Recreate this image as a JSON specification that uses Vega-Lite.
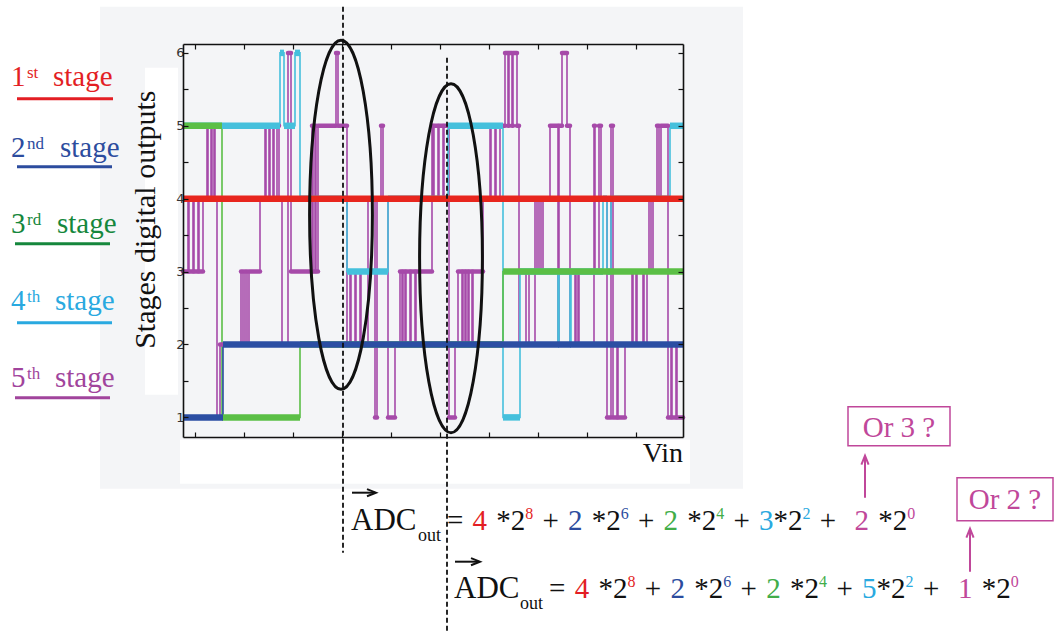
{
"$schema": "https://vega.github.io/schema/vega-lite/v6.json",
"width": 500, "height": 393,
"autosize": "none",
"padding": {"left": 183, "top": 44, "right": 372, "bottom": 194},
"background": "white",
"config": {"view": {"stroke": null}, "font": "Liberation Serif"},
"datasets": {
"panels": [
{"x1": -83, "x2": 560, "y1": 6.634, "y2": 0.022, "tone": "bg"},
{"x1": -3, "x2": 507, "y1": 0.694, "y2": 0.0905, "tone": "w"},
{"x1": -38, "x2": -5, "y1": 5.797, "y2": 1.311, "tone": "w"}
],
"steps": [
{"tone":"s5","vin":0,"lvl":3},{"tone":"s5","vin":5,"lvl":4},{"tone":"s5","vin":6,"lvl":3},{"tone":"s5","vin":10,"lvl":4},{"tone":"s5","vin":11,"lvl":3},{"tone":"s5","vin":15,"lvl":4},{"tone":"s5","vin":16,"lvl":3},{"tone":"s5","vin":20,"lvl":4},{"tone":"s5","vin":24,"lvl":5},{"tone":"s5","vin":25,"lvl":4},{"tone":"s5","vin":28,"lvl":5},{"tone":"s5","vin":29,"lvl":4},{"tone":"s5","vin":31,"lvl":5},{"tone":"s5","vin":32,"lvl":4},{"tone":"s5","vin":34,"lvl":1},{"tone":"s5","vin":37,"lvl":2},{"tone":"s5","vin":58,"lvl":3},{"tone":"s5","vin":60,"lvl":2},{"tone":"s5","vin":62,"lvl":3},{"tone":"s5","vin":64,"lvl":2},{"tone":"s5","vin":66,"lvl":3},{"tone":"s5","vin":77,"lvl":4},{"tone":"s5","vin":82,"lvl":5},{"tone":"s5","vin":83,"lvl":4},{"tone":"s5","vin":86,"lvl":5},{"tone":"s5","vin":87,"lvl":4},{"tone":"s5","vin":90,"lvl":5},{"tone":"s5","vin":91,"lvl":4},{"tone":"s5","vin":94,"lvl":5},{"tone":"s5","vin":96,"lvl":4},{"tone":"s5","vin":99,"lvl":2},{"tone":"s5","vin":105,"lvl":6},{"tone":"s5","vin":108,"lvl":3},{"tone":"s5","vin":129,"lvl":5},{"tone":"s5","vin":130,"lvl":3},{"tone":"s5","vin":132,"lvl":5},{"tone":"s5","vin":133,"lvl":3},{"tone":"s5","vin":135,"lvl":5},{"tone":"s5","vin":153,"lvl":6},{"tone":"s5","vin":155,"lvl":5},{"tone":"s5","vin":164,"lvl":2},{"tone":"s5","vin":167,"lvl":3},{"tone":"s5","vin":168,"lvl":2},{"tone":"s5","vin":172,"lvl":3},{"tone":"s5","vin":173,"lvl":2},{"tone":"s5","vin":177,"lvl":3},{"tone":"s5","vin":178,"lvl":2},{"tone":"s5","vin":185,"lvl":4},{"tone":"s5","vin":192,"lvl":1},{"tone":"s5","vin":194,"lvl":4},{"tone":"s5","vin":198,"lvl":5},{"tone":"s5","vin":200,"lvl":4},{"tone":"s5","vin":205,"lvl":1},{"tone":"s5","vin":212,"lvl":2},{"tone":"s5","vin":217,"lvl":3},{"tone":"s5","vin":219,"lvl":2},{"tone":"s5","vin":220,"lvl":3},{"tone":"s5","vin":222,"lvl":2},{"tone":"s5","vin":223,"lvl":3},{"tone":"s5","vin":227,"lvl":2},{"tone":"s5","vin":228,"lvl":3},{"tone":"s5","vin":232,"lvl":2},{"tone":"s5","vin":233,"lvl":3},{"tone":"s5","vin":249,"lvl":5},{"tone":"s5","vin":250,"lvl":4},{"tone":"s5","vin":251,"lvl":5},{"tone":"s5","vin":255,"lvl":4},{"tone":"s5","vin":256,"lvl":5},{"tone":"s5","vin":260,"lvl":4},{"tone":"s5","vin":261,"lvl":5},{"tone":"s5","vin":266,"lvl":1},{"tone":"s5","vin":272,"lvl":2},{"tone":"s5","vin":275,"lvl":3},{"tone":"s5","vin":279,"lvl":2},{"tone":"s5","vin":280,"lvl":3},{"tone":"s5","vin":282,"lvl":2},{"tone":"s5","vin":283,"lvl":3},{"tone":"s5","vin":285,"lvl":2},{"tone":"s5","vin":286,"lvl":3},{"tone":"s5","vin":289,"lvl":2},{"tone":"s5","vin":290,"lvl":3},{"tone":"s5","vin":300,"lvl":4},{"tone":"s5","vin":307,"lvl":5},{"tone":"s5","vin":308,"lvl":4},{"tone":"s5","vin":312,"lvl":5},{"tone":"s5","vin":313,"lvl":4},{"tone":"s5","vin":317,"lvl":5},{"tone":"s5","vin":322,"lvl":6},{"tone":"s5","vin":325,"lvl":5},{"tone":"s5","vin":326,"lvl":6},{"tone":"s5","vin":329,"lvl":5},{"tone":"s5","vin":330,"lvl":6},{"tone":"s5","vin":334,"lvl":5},{"tone":"s5","vin":336,"lvl":2},{"tone":"s5","vin":343,"lvl":3},{"tone":"s5","vin":346,"lvl":2},{"tone":"s5","vin":352,"lvl":4},{"tone":"s5","vin":354,"lvl":3},{"tone":"s5","vin":356,"lvl":4},{"tone":"s5","vin":358,"lvl":3},{"tone":"s5","vin":360,"lvl":4},{"tone":"s5","vin":367,"lvl":5},{"tone":"s5","vin":375,"lvl":2},{"tone":"s5","vin":376,"lvl":5},{"tone":"s5","vin":379,"lvl":6},{"tone":"s5","vin":384,"lvl":5},{"tone":"s5","vin":387,"lvl":2},{"tone":"s5","vin":392,"lvl":3},{"tone":"s5","vin":393,"lvl":2},{"tone":"s5","vin":395,"lvl":3},{"tone":"s5","vin":396,"lvl":2},{"tone":"s5","vin":411,"lvl":5},{"tone":"s5","vin":412,"lvl":3},{"tone":"s5","vin":416,"lvl":5},{"tone":"s5","vin":418,"lvl":4},{"tone":"s5","vin":424,"lvl":1},{"tone":"s5","vin":428,"lvl":5},{"tone":"s5","vin":430,"lvl":1},{"tone":"s5","vin":434,"lvl":2},{"tone":"s5","vin":435,"lvl":1},{"tone":"s5","vin":442,"lvl":2},{"tone":"s5","vin":449,"lvl":3},{"tone":"s5","vin":450,"lvl":2},{"tone":"s5","vin":453,"lvl":3},{"tone":"s5","vin":454,"lvl":2},{"tone":"s5","vin":460,"lvl":3},{"tone":"s5","vin":461,"lvl":2},{"tone":"s5","vin":464,"lvl":3},{"tone":"s5","vin":466,"lvl":4},{"tone":"s5","vin":468,"lvl":3},{"tone":"s5","vin":470,"lvl":4},{"tone":"s5","vin":474,"lvl":5},{"tone":"s5","vin":476,"lvl":4},{"tone":"s5","vin":478,"lvl":5},{"tone":"s5","vin":485,"lvl":1},{"tone":"s5","vin":488,"lvl":2},{"tone":"s5","vin":489,"lvl":1},{"tone":"s5","vin":493,"lvl":2},{"tone":"s5","vin":494,"lvl":1},{"tone":"s5","vin":500,"lvl":1},
{"tone":"s4","vin":0,"lvl":5},{"tone":"s4","vin":97,"lvl":6},{"tone":"s4","vin":101,"lvl":5},{"tone":"s4","vin":112,"lvl":6},{"tone":"s4","vin":117,"lvl":4},{"tone":"s4","vin":164,"lvl":3},{"tone":"s4","vin":205,"lvl":4},{"tone":"s4","vin":265,"lvl":5},{"tone":"s4","vin":320,"lvl":1},{"tone":"s4","vin":337,"lvl":3},{"tone":"s4","vin":375,"lvl":2},{"tone":"s4","vin":376,"lvl":3},{"tone":"s4","vin":387,"lvl":2},{"tone":"s4","vin":388,"lvl":3},{"tone":"s4","vin":420,"lvl":4},{"tone":"s4","vin":424,"lvl":3},{"tone":"s4","vin":428,"lvl":4},{"tone":"s4","vin":487,"lvl":5},{"tone":"s4","vin":500,"lvl":5},
{"tone":"s3","vin":0,"lvl":5},{"tone":"s3","vin":39,"lvl":1},{"tone":"s3","vin":117,"lvl":2},{"tone":"s3","vin":320,"lvl":3},{"tone":"s3","vin":500,"lvl":3},
{"tone":"s2","vin":0,"lvl":1},{"tone":"s2","vin":40,"lvl":2},{"tone":"s2","vin":500,"lvl":2},
{"tone":"s1","vin":0,"lvl":4},{"tone":"s1","vin":500,"lvl":4}
],
"ovals": [{"vin": 158, "lvl": 3.78}, {"vin": 268, "lvl": 3.184}],
"dashes": [{"vin": 160, "y1": 6.634, "y2": -0.856}, {"vin": 264, "y1": 5.934, "y2": -1.93}],
"ulines": [
{"x1": -166, "x2": -70, "y": 5.372, "tone": "L1"},
{"x1": -166, "x2": -71, "y": 4.439, "tone": "L2"},
{"x1": -168, "x2": -73, "y": 3.383, "tone": "L3"},
{"x1": -166, "x2": -71, "y": 2.299, "tone": "L4"},
{"x1": -168, "x2": -73, "y": 1.27, "tone": "L5"}
],
"notes": [
{"kind":"leg","text":"1","vin":-172,"lvl":5.55,"tone":"L1"},
{"kind":"legsup","text":"st","vin":-156,"lvl":5.66,"tone":"L1"},
{"kind":"leg","text":"stage","vin":-130,"lvl":5.55,"tone":"L1"},
{"kind":"leg","text":"2","vin":-172,"lvl":4.576,"tone":"L2"},
{"kind":"legsup","text":"nd","vin":-156,"lvl":4.686,"tone":"L2"},
{"kind":"leg","text":"stage","vin":-123,"lvl":4.576,"tone":"L2"},
{"kind":"leg","text":"3","vin":-172,"lvl":3.534,"tone":"L3"},
{"kind":"legsup","text":"rd","vin":-156,"lvl":3.644,"tone":"L3"},
{"kind":"leg","text":"stage","vin":-126,"lvl":3.534,"tone":"L3"},
{"kind":"leg","text":"4","vin":-172,"lvl":2.477,"tone":"L4"},
{"kind":"legsup","text":"th","vin":-156,"lvl":2.587,"tone":"L4"},
{"kind":"leg","text":"stage","vin":-128,"lvl":2.477,"tone":"L4"},
{"kind":"leg","text":"5","vin":-172,"lvl":1.421,"tone":"L5"},
{"kind":"legsup","text":"th","vin":-156,"lvl":1.531,"tone":"L5"},
{"kind":"leg","text":"stage","vin":-128,"lvl":1.421,"tone":"L5"},
{"kind":"ytitle","text":"Stages digital outputs","vin":-28,"lvl":3.712,"tone":"k"},
{"kind":"vin","text":"Vin","vin":500,"lvl":0.392,"tone":"k"},
{"kind":"fa","text":"ADC","vin":168,"lvl":-0.5405,"tone":"k"},
{"kind":"fsub","text":"out","vin":235,"lvl":-0.6914,"tone":"k"},
{"kind":"fm","text":"=","vin":264,"lvl":-0.5405,"tone":"k"},
{"kind":"fm","text":"4","vin":289.6,"lvl":-0.5405,"tone":"L1"},
{"kind":"fm","text":"*2","vin":313.3,"lvl":-0.5405,"tone":"k"},
{"kind":"fsup","text":"8","vin":342.3,"lvl":-0.3896,"tone":"L1"},
{"kind":"fm","text":"+","vin":359.5,"lvl":-0.5405,"tone":"k"},
{"kind":"fm","text":"2","vin":385.1,"lvl":-0.5405,"tone":"L2"},
{"kind":"fm","text":"*2","vin":408.8,"lvl":-0.5405,"tone":"k"},
{"kind":"fsup","text":"6","vin":437.8,"lvl":-0.3896,"tone":"L2"},
{"kind":"fm","text":"+","vin":455,"lvl":-0.5405,"tone":"k"},
{"kind":"fm","text":"2","vin":480.6,"lvl":-0.5405,"tone":"F3"},
{"kind":"fm","text":"*2","vin":504.3,"lvl":-0.5405,"tone":"k"},
{"kind":"fsup","text":"4","vin":533.3,"lvl":-0.3896,"tone":"F3"},
{"kind":"fm","text":"+","vin":550.5,"lvl":-0.5405,"tone":"k"},
{"kind":"fm","text":"3","vin":576.1,"lvl":-0.5405,"tone":"L4"},
{"kind":"fm","text":"*2","vin":590.6,"lvl":-0.5405,"tone":"k"},
{"kind":"fsup","text":"2","vin":619.6,"lvl":-0.3896,"tone":"L4"},
{"kind":"fm","text":"+","vin":636.8,"lvl":-0.5405,"tone":"k"},
{"kind":"fm","text":"2","vin":671.6,"lvl":-0.5405,"tone":"F5"},
{"kind":"fm","text":"*2","vin":695.3,"lvl":-0.5405,"tone":"k"},
{"kind":"fsup","text":"0","vin":724.3,"lvl":-0.3896,"tone":"F5"},
{"kind":"fa","text":"ADC","vin":271,"lvl":-1.4733,"tone":"k"},
{"kind":"fsub","text":"out","vin":337,"lvl":-1.6241,"tone":"k"},
{"kind":"fm","text":"=","vin":366,"lvl":-1.4733,"tone":"k"},
{"kind":"fm","text":"4","vin":391.7,"lvl":-1.4733,"tone":"L1"},
{"kind":"fm","text":"*2","vin":415.5,"lvl":-1.4733,"tone":"k"},
{"kind":"fsup","text":"8","vin":444.5,"lvl":-1.3224,"tone":"L1"},
{"kind":"fm","text":"+","vin":461.8,"lvl":-1.4733,"tone":"k"},
{"kind":"fm","text":"2","vin":487.5,"lvl":-1.4733,"tone":"L2"},
{"kind":"fm","text":"*2","vin":511.3,"lvl":-1.4733,"tone":"k"},
{"kind":"fsup","text":"6","vin":540.3,"lvl":-1.3224,"tone":"L2"},
{"kind":"fm","text":"+","vin":557.6,"lvl":-1.4733,"tone":"k"},
{"kind":"fm","text":"2","vin":583.3,"lvl":-1.4733,"tone":"F3"},
{"kind":"fm","text":"*2","vin":607.1,"lvl":-1.4733,"tone":"k"},
{"kind":"fsup","text":"4","vin":636.1,"lvl":-1.3224,"tone":"F3"},
{"kind":"fm","text":"+","vin":653.4,"lvl":-1.4733,"tone":"k"},
{"kind":"fm","text":"5","vin":679.1,"lvl":-1.4733,"tone":"L4"},
{"kind":"fm","text":"*2","vin":693.6,"lvl":-1.4733,"tone":"k"},
{"kind":"fsup","text":"2","vin":722.6,"lvl":-1.3224,"tone":"L4"},
{"kind":"fm","text":"+","vin":739.9,"lvl":-1.4733,"tone":"k"},
{"kind":"fm","text":"1","vin":774.9,"lvl":-1.4733,"tone":"F5"},
{"kind":"fm","text":"*2","vin":798.7,"lvl":-1.4733,"tone":"k"},
{"kind":"fsup","text":"0","vin":827.7,"lvl":-1.3224,"tone":"F5"},
{"kind":"or","text":"Or 3 ?","vin":716,"lvl":0.859,"tone":"F5"},
{"kind":"or","text":"Or 2 ?","vin":822,"lvl":-0.129,"tone":"F5"}
],
"boxes": [
{"x1": 665, "x2": 767, "y1": 1.147, "y2": 0.612},
{"x1": 774, "x2": 870, "y1": 0.173, "y2": -0.417}
],
"arrows": [
{"x1": 682, "x2": 682, "y1": -0.1015, "y2": 0.455, "tone": "F5"},
{"x1": 787, "x2": 787, "y1": -1.1166, "y2": -0.535, "tone": "F5"},
{"x1": 169, "x2": 192, "y1": -0.0329, "y2": -0.0329, "tone": "k"},
{"x1": 272, "x2": 296, "y1": -0.9794, "y2": -0.9794, "tone": "k"}
],
"heads": [
{"vin": 682, "lvl": 0.4129, "dir": "up", "tone": "F5"},
{"vin": 787, "lvl": -0.5885, "dir": "up", "tone": "F5"},
{"vin": 188.5, "lvl": -0.0329, "dir": "right", "tone": "k"},
{"vin": 292.5, "lvl": -0.9794, "dir": "right", "tone": "k"}
]
},
"layer": [
{
"data": {"name": "panels"},
"mark": {"type": "rect"},
"encoding": {
"x": {"field": "x1", "type": "quantitative", "scale": {"domain": [0, 500], "nice": false, "zero": false},
"axis": {"orient": "bottom", "values": [12, 61, 110, 159, 208, 257, 306, 355, 404, 453], "labels": false, "tickSize": -5, "tickColor": "#111", "tickWidth": 1.2, "domainColor": "#111", "domainWidth": 1.6, "grid": false, "title": null, "zindex": 1}},
"x2": {"field": "x2"},
"y": {"field": "y1", "type": "quantitative", "scale": {"domain": [0.731, 6.122], "nice": false, "zero": false},
"axis": {"orient": "left", "values": [1, 1.5, 2, 2.5, 3, 3.5, 4, 4.5, 5, 5.5, 6], "labelExpr": "datum.value % 1 === 0 ? format(datum.value, 'd') : ''", "tickSize": -5, "labelPadding": 4, "labelFont": "DejaVu Sans", "labelFontSize": 13, "labelColor": "#333", "tickColor": "#111", "tickWidth": 1.2, "domainColor": "#111", "domainWidth": 1.6, "grid": false, "title": null, "zindex": 1}},
"y2": {"field": "y2"},
"color": {"field": "tone", "type": "nominal", "legend": null, "scale": {"domain": ["bg","w","s1","s2","s3","s4","s5","L1","L2","L3","L4","L5","F3","F5","k"], "range": ["#f4f5f7","#ffffff","#e8261e","#2b4ea3","#5bbf46","#45c0dc","#a64aa9","#e31e24","#2c4c9e","#15873c","#29a9e0","#a1449c","#41ad49","#c0479a","#111111"]}}
}
},
{
"data": {"name": "steps"},
"mark": {"type": "line", "interpolate": "step-after", "strokeWidth": 1.6},
"encoding": {
"x": {"field": "vin", "type": "quantitative", "scale": {"domain": [0, 500], "nice": false, "zero": false},
"axis": {"orient": "top", "values": [12, 61, 110, 159, 208, 257, 306, 355, 404, 453], "labels": false, "tickSize": -5, "tickColor": "#111", "tickWidth": 1.2, "domainColor": "#111", "domainWidth": 1.6, "grid": false, "title": null, "zindex": 1}},
"y": {"field": "lvl", "type": "quantitative", "scale": {"domain": [0.731, 6.122], "nice": false, "zero": false},
"axis": {"orient": "right", "values": [1, 1.5, 2, 2.5, 3, 3.5, 4, 4.5, 5, 5.5, 6], "labels": false, "tickSize": -5, "tickColor": "#111", "tickWidth": 1.2, "domainColor": "#111", "domainWidth": 1.6, "grid": false, "title": null, "zindex": 1}},
"color": {"field": "tone", "type": "nominal", "legend": null, "scale": {"domain": ["bg","w","s1","s2","s3","s4","s5","L1","L2","L3","L4","L5","F3","F5","k"], "range": ["#f4f5f7","#ffffff","#e8261e","#2b4ea3","#5bbf46","#45c0dc","#a64aa9","#e31e24","#2c4c9e","#15873c","#29a9e0","#a1449c","#41ad49","#c0479a","#111111"]}}
}
},
{
"data": {"name": "steps"},
"transform": [
{"filter": "datum.tone === 's5'"},
{"window": [{"op": "lead", "field": "vin", "as": "vin2"}], "sort": [{"field": "vin"}]},
{"filter": "datum.vin2 != null"}
],
"mark": {"type": "rule", "strokeWidth": 4.5, "strokeCap": "round"},
"encoding": {
"x": {"field": "vin", "type": "quantitative", "scale": {"domain": [0, 500], "nice": false, "zero": false}, "axis": null},
"x2": {"field": "vin2"},
"y": {"field": "lvl", "type": "quantitative", "scale": {"domain": [0.731, 6.122], "nice": false, "zero": false}, "axis": null},
"color": {"field": "tone", "type": "nominal", "legend": null, "scale": {"domain": ["bg","w","s1","s2","s3","s4","s5","L1","L2","L3","L4","L5","F3","F5","k"], "range": ["#f4f5f7","#ffffff","#e8261e","#2b4ea3","#5bbf46","#45c0dc","#a64aa9","#e31e24","#2c4c9e","#15873c","#29a9e0","#a1449c","#41ad49","#c0479a","#111111"]}}
}
},
{
"data": {"name": "steps"},
"transform": [
{"filter": "datum.tone !== 's5'"},
{"window": [{"op": "lead", "field": "vin", "as": "vin2"}], "groupby": ["tone"], "sort": [{"field": "vin"}]},
{"filter": "datum.vin2 != null"}
],
"mark": {"type": "rule", "strokeWidth": 6.5, "strokeCap": "butt"},
"encoding": {
"x": {"field": "vin", "type": "quantitative", "scale": {"domain": [0, 500], "nice": false, "zero": false}, "axis": null},
"x2": {"field": "vin2"},
"y": {"field": "lvl", "type": "quantitative", "scale": {"domain": [0.731, 6.122], "nice": false, "zero": false}, "axis": null},
"order": {"field": "tone", "type": "ordinal", "sort": "descending"},
"color": {"field": "tone", "type": "nominal", "legend": null, "scale": {"domain": ["bg","w","s1","s2","s3","s4","s5","L1","L2","L3","L4","L5","F3","F5","k"], "range": ["#f4f5f7","#ffffff","#e8261e","#2b4ea3","#5bbf46","#45c0dc","#a64aa9","#e31e24","#2c4c9e","#15873c","#29a9e0","#a1449c","#41ad49","#c0479a","#111111"]}}
}
},
{
"data": {"name": "ovals"},
"mark": {"type": "point", "shape": "M0,-1A0.18,1,0,1,1,0,1A0.18,1,0,1,1,0,-1Z", "size": 121801, "filled": false, "stroke": "#111111", "strokeWidth": 3, "opacity": 1},
"encoding": {
"x": {"field": "vin", "type": "quantitative", "scale": {"domain": [0, 500], "nice": false, "zero": false}, "axis": null},
"y": {"field": "lvl", "type": "quantitative", "scale": {"domain": [0.731, 6.122], "nice": false, "zero": false}, "axis": null}
}
},
{
"data": {"name": "dashes"},
"mark": {"type": "rule", "stroke": "#111111", "strokeWidth": 1.8, "strokeDash": [5, 3]},
"encoding": {
"x": {"field": "vin", "type": "quantitative", "scale": {"domain": [0, 500], "nice": false, "zero": false}, "axis": null},
"y": {"field": "y1", "type": "quantitative", "scale": {"domain": [0.731, 6.122], "nice": false, "zero": false}, "axis": null},
"y2": {"field": "y2"}
}
},
{
"data": {"name": "ulines"},
"mark": {"type": "rule", "strokeWidth": 3},
"encoding": {
"x": {"field": "x1", "type": "quantitative", "scale": {"domain": [0, 500], "nice": false, "zero": false}, "axis": null},
"x2": {"field": "x2"},
"y": {"field": "y", "type": "quantitative", "scale": {"domain": [0.731, 6.122], "nice": false, "zero": false}, "axis": null},
"color": {"field": "tone", "type": "nominal", "legend": null, "scale": {"domain": ["bg","w","s1","s2","s3","s4","s5","L1","L2","L3","L4","L5","F3","F5","k"], "range": ["#f4f5f7","#ffffff","#e8261e","#2b4ea3","#5bbf46","#45c0dc","#a64aa9","#e31e24","#2c4c9e","#15873c","#29a9e0","#a1449c","#41ad49","#c0479a","#111111"]}}
}
},
{
"data": {"name": "notes"},
"transform": [{"filter": "datum.kind === 'leg'"}],
"mark": {"type": "text", "font": "Liberation Serif", "fontSize": 29, "align": "left", "baseline": "alphabetic"},
"encoding": {
"x": {"field": "vin", "type": "quantitative", "scale": {"domain": [0, 500], "nice": false, "zero": false}, "axis": null},
"y": {"field": "lvl", "type": "quantitative", "scale": {"domain": [0.731, 6.122], "nice": false, "zero": false}, "axis": null},
"text": {"field": "text"},
"color": {"field": "tone", "type": "nominal", "legend": null, "scale": {"domain": ["bg","w","s1","s2","s3","s4","s5","L1","L2","L3","L4","L5","F3","F5","k"], "range": ["#f4f5f7","#ffffff","#e8261e","#2b4ea3","#5bbf46","#45c0dc","#a64aa9","#e31e24","#2c4c9e","#15873c","#29a9e0","#a1449c","#41ad49","#c0479a","#111111"]}}
}
},
{
"data": {"name": "notes"},
"transform": [{"filter": "datum.kind === 'legsup'"}],
"mark": {"type": "text", "font": "Liberation Serif", "fontSize": 17, "align": "left", "baseline": "alphabetic"},
"encoding": {
"x": {"field": "vin", "type": "quantitative", "scale": {"domain": [0, 500], "nice": false, "zero": false}, "axis": null},
"y": {"field": "lvl", "type": "quantitative", "scale": {"domain": [0.731, 6.122], "nice": false, "zero": false}, "axis": null},
"text": {"field": "text"},
"color": {"field": "tone", "type": "nominal", "legend": null, "scale": {"domain": ["bg","w","s1","s2","s3","s4","s5","L1","L2","L3","L4","L5","F3","F5","k"], "range": ["#f4f5f7","#ffffff","#e8261e","#2b4ea3","#5bbf46","#45c0dc","#a64aa9","#e31e24","#2c4c9e","#15873c","#29a9e0","#a1449c","#41ad49","#c0479a","#111111"]}}
}
},
{
"data": {"name": "notes"},
"transform": [{"filter": "datum.kind === 'ytitle'"}],
"mark": {"type": "text", "font": "Liberation Serif", "fontSize": 30, "align": "center", "baseline": "alphabetic", "angle": 270},
"encoding": {
"x": {"field": "vin", "type": "quantitative", "scale": {"domain": [0, 500], "nice": false, "zero": false}, "axis": null},
"y": {"field": "lvl", "type": "quantitative", "scale": {"domain": [0.731, 6.122], "nice": false, "zero": false}, "axis": null},
"text": {"field": "text"},
"color": {"field": "tone", "type": "nominal", "legend": null, "scale": {"domain": ["bg","w","s1","s2","s3","s4","s5","L1","L2","L3","L4","L5","F3","F5","k"], "range": ["#f4f5f7","#ffffff","#e8261e","#2b4ea3","#5bbf46","#45c0dc","#a64aa9","#e31e24","#2c4c9e","#15873c","#29a9e0","#a1449c","#41ad49","#c0479a","#111111"]}}
}
},
{
"data": {"name": "notes"},
"transform": [{"filter": "datum.kind === 'vin'"}],
"mark": {"type": "text", "font": "Liberation Serif", "fontSize": 28, "align": "right", "baseline": "alphabetic"},
"encoding": {
"x": {"field": "vin", "type": "quantitative", "scale": {"domain": [0, 500], "nice": false, "zero": false}, "axis": null},
"y": {"field": "lvl", "type": "quantitative", "scale": {"domain": [0.731, 6.122], "nice": false, "zero": false}, "axis": null},
"text": {"field": "text"},
"color": {"field": "tone", "type": "nominal", "legend": null, "scale": {"domain": ["bg","w","s1","s2","s3","s4","s5","L1","L2","L3","L4","L5","F3","F5","k"], "range": ["#f4f5f7","#ffffff","#e8261e","#2b4ea3","#5bbf46","#45c0dc","#a64aa9","#e31e24","#2c4c9e","#15873c","#29a9e0","#a1449c","#41ad49","#c0479a","#111111"]}}
}
},
{
"data": {"name": "notes"},
"transform": [{"filter": "datum.kind === 'fa'"}],
"mark": {"type": "text", "font": "Liberation Serif", "fontSize": 31, "align": "left", "baseline": "alphabetic"},
"encoding": {
"x": {"field": "vin", "type": "quantitative", "scale": {"domain": [0, 500], "nice": false, "zero": false}, "axis": null},
"y": {"field": "lvl", "type": "quantitative", "scale": {"domain": [0.731, 6.122], "nice": false, "zero": false}, "axis": null},
"text": {"field": "text"},
"color": {"field": "tone", "type": "nominal", "legend": null, "scale": {"domain": ["bg","w","s1","s2","s3","s4","s5","L1","L2","L3","L4","L5","F3","F5","k"], "range": ["#f4f5f7","#ffffff","#e8261e","#2b4ea3","#5bbf46","#45c0dc","#a64aa9","#e31e24","#2c4c9e","#15873c","#29a9e0","#a1449c","#41ad49","#c0479a","#111111"]}}
}
},
{
"data": {"name": "notes"},
"transform": [{"filter": "datum.kind === 'fm'"}],
"mark": {"type": "text", "font": "Liberation Serif", "fontSize": 29, "align": "left", "baseline": "alphabetic"},
"encoding": {
"x": {"field": "vin", "type": "quantitative", "scale": {"domain": [0, 500], "nice": false, "zero": false}, "axis": null},
"y": {"field": "lvl", "type": "quantitative", "scale": {"domain": [0.731, 6.122], "nice": false, "zero": false}, "axis": null},
"text": {"field": "text"},
"color": {"field": "tone", "type": "nominal", "legend": null, "scale": {"domain": ["bg","w","s1","s2","s3","s4","s5","L1","L2","L3","L4","L5","F3","F5","k"], "range": ["#f4f5f7","#ffffff","#e8261e","#2b4ea3","#5bbf46","#45c0dc","#a64aa9","#e31e24","#2c4c9e","#15873c","#29a9e0","#a1449c","#41ad49","#c0479a","#111111"]}}
}
},
{
"data": {"name": "notes"},
"transform": [{"filter": "datum.kind === 'fsup'"}],
"mark": {"type": "text", "font": "Liberation Serif", "fontSize": 16, "align": "left", "baseline": "alphabetic"},
"encoding": {
"x": {"field": "vin", "type": "quantitative", "scale": {"domain": [0, 500], "nice": false, "zero": false}, "axis": null},
"y": {"field": "lvl", "type": "quantitative", "scale": {"domain": [0.731, 6.122], "nice": false, "zero": false}, "axis": null},
"text": {"field": "text"},
"color": {"field": "tone", "type": "nominal", "legend": null, "scale": {"domain": ["bg","w","s1","s2","s3","s4","s5","L1","L2","L3","L4","L5","F3","F5","k"], "range": ["#f4f5f7","#ffffff","#e8261e","#2b4ea3","#5bbf46","#45c0dc","#a64aa9","#e31e24","#2c4c9e","#15873c","#29a9e0","#a1449c","#41ad49","#c0479a","#111111"]}}
}
},
{
"data": {"name": "notes"},
"transform": [{"filter": "datum.kind === 'fsub'"}],
"mark": {"type": "text", "font": "Liberation Serif", "fontSize": 18, "align": "left", "baseline": "alphabetic"},
"encoding": {
"x": {"field": "vin", "type": "quantitative", "scale": {"domain": [0, 500], "nice": false, "zero": false}, "axis": null},
"y": {"field": "lvl", "type": "quantitative", "scale": {"domain": [0.731, 6.122], "nice": false, "zero": false}, "axis": null},
"text": {"field": "text"},
"color": {"field": "tone", "type": "nominal", "legend": null, "scale": {"domain": ["bg","w","s1","s2","s3","s4","s5","L1","L2","L3","L4","L5","F3","F5","k"], "range": ["#f4f5f7","#ffffff","#e8261e","#2b4ea3","#5bbf46","#45c0dc","#a64aa9","#e31e24","#2c4c9e","#15873c","#29a9e0","#a1449c","#41ad49","#c0479a","#111111"]}}
}
},
{
"data": {"name": "notes"},
"transform": [{"filter": "datum.kind === 'or'"}],
"mark": {"type": "text", "font": "Liberation Serif", "fontSize": 29, "align": "center", "baseline": "middle"},
"encoding": {
"x": {"field": "vin", "type": "quantitative", "scale": {"domain": [0, 500], "nice": false, "zero": false}, "axis": null},
"y": {"field": "lvl", "type": "quantitative", "scale": {"domain": [0.731, 6.122], "nice": false, "zero": false}, "axis": null},
"text": {"field": "text"},
"color": {"field": "tone", "type": "nominal", "legend": null, "scale": {"domain": ["bg","w","s1","s2","s3","s4","s5","L1","L2","L3","L4","L5","F3","F5","k"], "range": ["#f4f5f7","#ffffff","#e8261e","#2b4ea3","#5bbf46","#45c0dc","#a64aa9","#e31e24","#2c4c9e","#15873c","#29a9e0","#a1449c","#41ad49","#c0479a","#111111"]}}
}
},
{
"data": {"name": "boxes"},
"mark": {"type": "rect", "filled": false, "stroke": "#c0479a", "strokeWidth": 1.5},
"encoding": {
"x": {"field": "x1", "type": "quantitative", "scale": {"domain": [0, 500], "nice": false, "zero": false}, "axis": null},
"x2": {"field": "x2"},
"y": {"field": "y1", "type": "quantitative", "scale": {"domain": [0.731, 6.122], "nice": false, "zero": false}, "axis": null},
"y2": {"field": "y2"}
}
},
{
"data": {"name": "arrows"},
"mark": {"type": "rule", "strokeWidth": 2},
"encoding": {
"x": {"field": "x1", "type": "quantitative", "scale": {"domain": [0, 500], "nice": false, "zero": false}, "axis": null},
"x2": {"field": "x2"},
"y": {"field": "y1", "type": "quantitative", "scale": {"domain": [0.731, 6.122], "nice": false, "zero": false}, "axis": null},
"y2": {"field": "y2"},
"color": {"field": "tone", "type": "nominal", "legend": null, "scale": {"domain": ["bg","w","s1","s2","s3","s4","s5","L1","L2","L3","L4","L5","F3","F5","k"], "range": ["#f4f5f7","#ffffff","#e8261e","#2b4ea3","#5bbf46","#45c0dc","#a64aa9","#e31e24","#2c4c9e","#15873c","#29a9e0","#a1449c","#41ad49","#c0479a","#111111"]}}
}
},
{
"data": {"name": "heads"},
"mark": {"type": "point", "filled": false, "size": 81, "strokeWidth": 2, "opacity": 1},
"encoding": {
"x": {"field": "vin", "type": "quantitative", "scale": {"domain": [0, 500], "nice": false, "zero": false}, "axis": null},
"y": {"field": "lvl", "type": "quantitative", "scale": {"domain": [0.731, 6.122], "nice": false, "zero": false}, "axis": null},
"shape": {"field": "dir", "type": "nominal", "legend": null, "scale": {"domain": ["up", "right"], "range": ["M-0.8,1L0,-1L0.8,1", "M-1,-0.8L1,0L-1,0.8"]}},
"color": {"field": "tone", "type": "nominal", "legend": null, "scale": {"domain": ["bg","w","s1","s2","s3","s4","s5","L1","L2","L3","L4","L5","F3","F5","k"], "range": ["#f4f5f7","#ffffff","#e8261e","#2b4ea3","#5bbf46","#45c0dc","#a64aa9","#e31e24","#2c4c9e","#15873c","#29a9e0","#a1449c","#41ad49","#c0479a","#111111"]}}
}
}
],
"resolve": {"axis": {"x": "independent", "y": "independent"}}
}
